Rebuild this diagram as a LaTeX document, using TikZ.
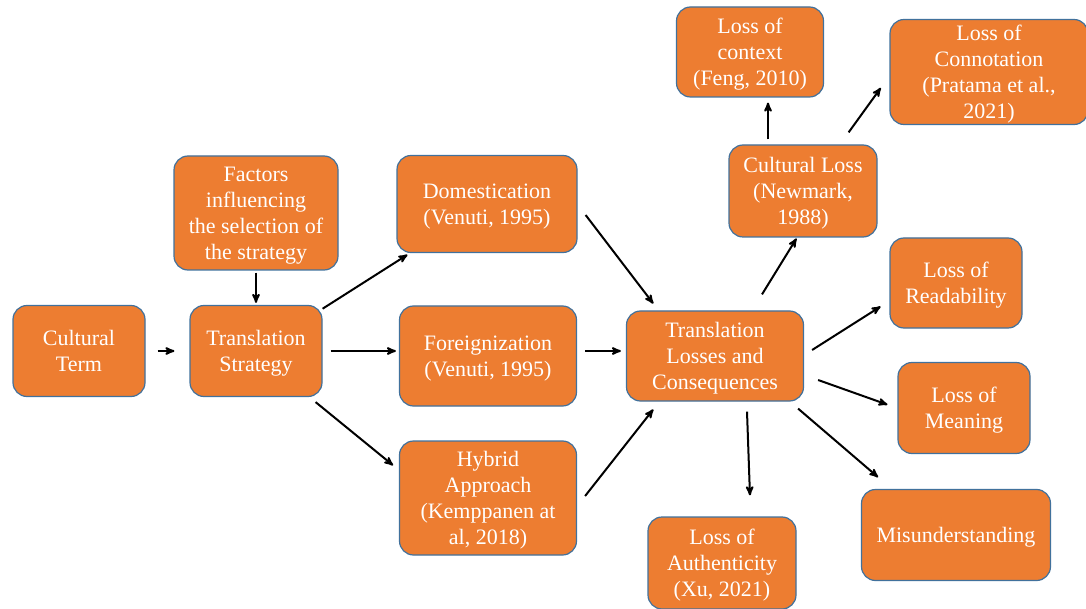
\documentclass[tikz,border=0pt]{standalone}
\usepackage{fontspec}
\setmainfont{Liberation Serif}
\usetikzlibrary{arrows,positioning}
\definecolor{boxorange}{RGB}{237,125,49}
\definecolor{boxedge}{RGB}{65,113,156}

\begin{document}
\begin{tikzpicture}[->,>=stealth',shorten >=1pt,on grid,line width=2pt]
  \tikzstyle{box}=[rectangle,rounded corners=14pt,draw=boxedge,line width=1.2pt,fill=boxorange,
                   text=white,align=center,inner sep=1pt,text depth=-6pt,
                   font=\fontsize{22}{26}\selectfont]

  \useasboundingbox (0,0) rectangle (1086pt,-609pt);

  \node[box,minimum width=132pt,minimum height=91pt] (term) at (79pt,-351pt) {Cultural\\Term};
  \node[box,minimum width=132pt,minimum height=91pt] (strat) [right=177pt of term] {Translation\\Strategy};
  \node[box,minimum width=164pt,minimum height=114pt] (factors) [above=138pt of strat] {Factors\\influencing\\the selection of\\the strategy};
  \node[box,minimum width=180pt,minimum height=97pt] (dom) [above right=147pt and 231pt of strat] {Domestication\\(Venuti, 1995)};
  \node[box,minimum width=177pt,minimum height=100pt] (foreign) [below right=5pt and 232pt of strat] {Foreignization\\(Venuti, 1995)};
  \node[box,minimum width=177pt,minimum height=114pt] (hybrid) [below right=147pt and 232pt of strat] {Hybrid\\Approach\\(Kemppanen at\\al, 2018)};
  \node[box,minimum width=177pt,minimum height=90pt] (losses) [right=227pt of foreign] {Translation\\Losses and\\Consequences};
  \node[box,minimum width=148pt,minimum height=92pt] (cultloss) [above right=165pt and 88pt of losses] {Cultural Loss\\(Newmark,\\1988)};
  \node[box,minimum width=147pt,minimum height=90pt] (context) [above left=139pt and 53pt of cultloss] {Loss of\\context\\(Feng, 2010)};
  \node[box,minimum width=198pt,minimum height=105pt] (connot) [above right=119pt and 186pt of cultloss] {Loss of\\Connotation\\(Pratama et al.,\\2021)};
  \node[box,minimum width=132pt,minimum height=90pt] (read) [above right=73pt and 241pt of losses] {Loss of\\Readability};
  \node[box,minimum width=132pt,minimum height=91pt] (meaning) [below right=52pt and 249pt of losses] {Loss of\\Meaning};
  \node[box,minimum width=189pt,minimum height=91pt] (misund) [below right=179pt and 241pt of losses] {Misunderstanding};
  \node[box,minimum width=148pt,minimum height=92pt] (auth) [below right=207pt and 7pt of losses] {Loss of\\Authenticity\\(Xu, 2021)};

  \path (term) edge [shorten <=12pt,shorten >=15pt] (strat)
        (factors) edge [shorten <=2pt,shorten >=2pt] (strat)
        (strat) edge [shorten >=3pt] (dom)
        (strat.east) edge [shorten <=8pt,shorten >=3pt] ([yshift=5pt]foreign.west)
        ([xshift=-7pt,yshift=-5pt]strat.south east) edge ([xshift=-5pt,yshift=32pt]hybrid.west)
        ([xshift=8pt,yshift=-11pt]dom.east) edge ([xshift=28pt,yshift=6pt]losses.north west)
        ([xshift=8pt,yshift=5pt]foreign.east) edge ([xshift=-4pt,yshift=5pt]losses.west)
        ([xshift=8pt,yshift=2pt]hybrid.east) edge ([xshift=28pt,yshift=-7pt]losses.south west)
        ([xshift=47pt,yshift=16pt]losses.north) edge ([xshift=-6pt]cultloss.south)
        ([xshift=-35pt,yshift=5pt]cultloss.north) edge ([xshift=18pt,yshift=-4pt]context.south)
        ([xshift=-29pt,yshift=12pt]cultloss.north east) edge ([xshift=-8pt,yshift=-15pt]connot.west)
        ([xshift=8pt,yshift=6pt]losses.east) edge ([xshift=-8pt,yshift=-23pt]read.west)
        ([xshift=14pt,yshift=-24pt]losses.east) edge ([xshift=-9pt,yshift=3pt]meaning.west)
        ([xshift=-6pt,yshift=-7pt]losses.south east) edge ([xshift=18pt,yshift=11pt]misund.north west)
        ([xshift=32pt,yshift=-10pt]losses.south) edge ([xshift=28pt,yshift=20pt]auth.north);

\end{tikzpicture}
\end{document}
